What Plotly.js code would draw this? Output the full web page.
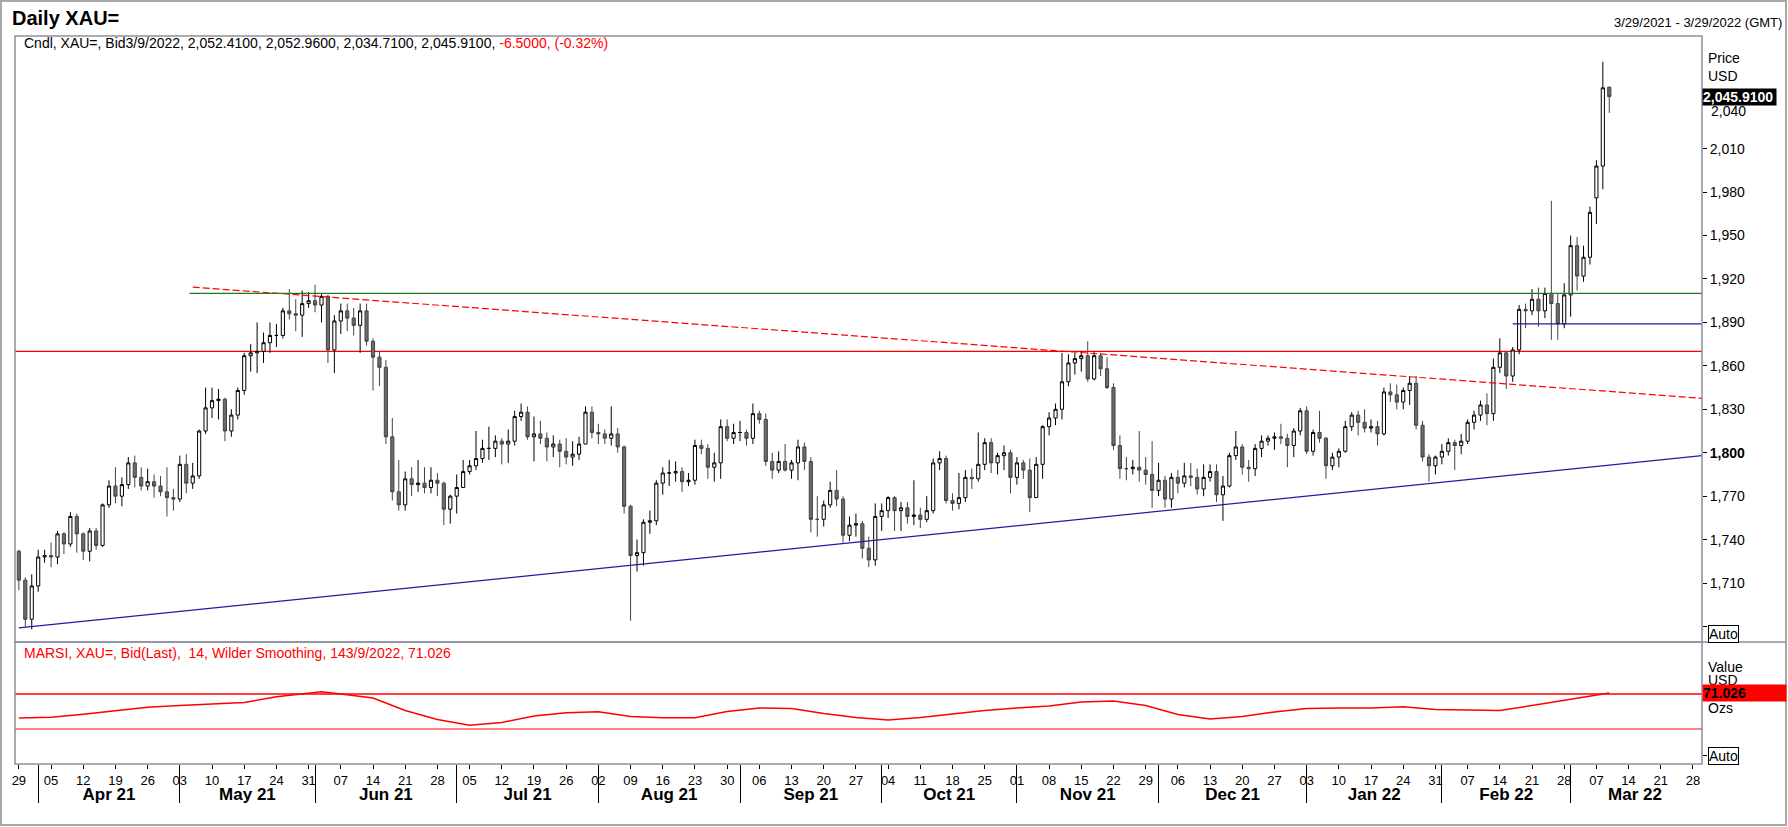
<!DOCTYPE html>
<html>
<head>
<meta charset="utf-8">
<script src="https://cdn.plot.ly/plotly-3.0.1.min.js"></script>
<style>
  html, body { margin: 0; padding: 0; background: #ffffff; }
  #chart { width: 1788px; height: 827px; }
</style>
</head>
<body>
<div id="chart"></div>
<script>
// ---------------- DATA (daily XAU= bid candles, weekdays from 2021-03-29 to 2022-03-09) ----------------
const firstDay = '2021-03-29';
const lastDay = '2022-03-09';

const openPx = [
  1732,1712,1685,1708,1728,  1729,1728,1744,1737,1756,  1744,1732,1746,1736,1764,  1777,1770,1778,1793,1783,
  1777,1780,1777,1773,1769,  1768,1792,1779,1784,1815,  1831,1836,1837,1815,1826,  1843,1867,1869,1870,1876,
  1881,1881,1898,1896,1895,  1903,1905,1902,1908,1871,  1891,1898,1893,1888,1898,  1877,1866,1859,1811,1773,
  1764,1782,1778,1779,1776,  1781,1779,1761,1770,1776,  1787,1791,1796,1803,1803,  1808,1806,1808,1825,1828,
  1811,1813,1810,1804,1806,  1801,1797,1799,1806,1828,  1814,1813,1810,1813,1804,  1763,1729,1731,1752,1753,
  1779,1786,1786,1787,1780,  1781,1805,1803,1790,1793,  1818,1810,1814,1814,1810,  1827,1823,1794,1788,1794,
  1788,1793,1804,1794,1754,  1754,1764,1774,1768,1743,  1750,1751,1734,1726,1756,  1760,1769,1760,1762,1756,
  1757,1754,1760,1793,1796,  1767,1765,1769,1783,1782,  1792,1807,1793,1798,1800,  1783,1793,1788,1769,1792,
  1818,1824,1830,1849,1862,  1865,1867,1851,1867,1858,  1845,1805,1789,1789,1790,  1788,1785,1774,1781,1768,
  1783,1779,1784,1783,1775,  1783,1787,1771,1777,1798,  1804,1790,1789,1803,1808,  1810,1811,1810,1805,1815,
  1829,1801,1814,1810,1791,  1797,1801,1818,1826,1821,  1817,1818,1813,1842,1840,  1835,1843,1848,1819,1797,
  1791,1797,1801,1807,1805,  1808,1821,1826,1833,1827,  1859,1869,1853,1871,1899,  1898,1906,1898,1910,1903,
  1889,1909,1943,1922,1935,  1976,1998,2052.41
];
const highPx = [
  1733,1714,1716,1733,1733,  1738,1746,1745,1759,1758,  1745,1748,1748,1765,1781,  1790,1783,1797,1798,1790,
  1789,1785,1784,1790,1775,  1798,1799,1793,1816,1845,  1845,1844,1838,1830,1845,  1869,1875,1890,1883,1890,
  1889,1900,1913,1906,1912,  1911,1916,1910,1909,1895,  1903,1903,1900,1903,1903,  1879,1870,1864,1824,1795,
  1787,1790,1795,1790,1790,  1786,1780,1771,1785,1795,  1795,1815,1809,1818,1812,  1810,1816,1829,1834,1832,
  1825,1822,1814,1812,1809,  1810,1808,1811,1832,1832,  1820,1816,1832,1817,1805,  1764,1740,1754,1760,1781,
  1790,1795,1794,1790,1786,  1809,1809,1806,1800,1823,  1823,1820,1822,1816,1834,  1829,1827,1800,1801,1806,
  1795,1809,1807,1797,1770,  1767,1780,1788,1770,1756,  1758,1753,1742,1765,1765,  1770,1770,1766,1766,1781,
  1762,1770,1796,1801,1798,  1772,1786,1788,1789,1814,  1810,1810,1800,1805,1802,  1797,1795,1796,1797,1819,
  1828,1834,1869,1868,1869,  1870,1877,1870,1869,1866,  1848,1812,1797,1795,1815,  1797,1808,1793,1784,1786,
  1788,1793,1793,1789,1792,  1792,1792,1784,1800,1815,  1806,1795,1806,1812,1812,  1814,1820,1813,1817,1831,
  1832,1816,1829,1811,1800,  1803,1822,1828,1829,1830,  1823,1822,1845,1848,1847,  1845,1853,1853,1822,1799,
  1798,1806,1810,1809,1813,  1823,1829,1836,1841,1865,  1879,1870,1873,1902,1903,  1913,1914,1914,1974,1910,
  1917,1950,1949,1943,1970,  2002,2070,2052.96
];
const lowPx = [
  1705,1680,1678,1704,1724,  1721,1723,1730,1735,1731,  1726,1725,1733,1735,1762,  1765,1763,1775,1776,1774,
  1774,1769,1770,1756,1760,  1766,1772,1775,1782,1813,  1824,1823,1808,1811,1823,  1840,1856,1855,1862,1869,
  1873,1879,1892,1884,1880,  1900,1897,1890,1862,1855,  1882,1884,1881,1869,1874,  1843,1846,1806,1767,1760,
  1760,1770,1773,1772,1772,  1770,1750,1751,1758,1776,  1785,1788,1793,1795,1797,  1792,1793,1805,1822,1809,
  1794,1806,1794,1797,1790,  1792,1791,1795,1806,1810,  1806,1806,1805,1800,1758,  1684,1718,1722,1744,1750,
  1771,1777,1780,1773,1777,  1778,1799,1782,1780,1782,  1808,1806,1808,1805,1806,  1820,1791,1782,1786,1787,
  1782,1781,1788,1745,1742,  1749,1762,1763,1738,1739,  1742,1727,1721,1722,1746,  1755,1746,1746,1751,1750,
  1748,1752,1758,1788,1765,  1760,1761,1766,1775,1780,  1788,1786,1785,1788,1772,  1778,1782,1759,1769,1782,
  1812,1819,1823,1846,1854,  1856,1849,1850,1853,1844,  1802,1782,1781,1785,1780,  1778,1762,1770,1762,1762,
  1772,1776,1777,1771,1770,  1780,1766,1753,1776,1795,  1785,1780,1784,1797,1805,  1802,1806,1790,1797,1812,
  1799,1798,1807,1782,1788,  1790,1800,1815,1812,1814,  1814,1805,1812,1835,1830,  1830,1833,1816,1794,1780,
  1785,1792,1798,1788,1799,  1806,1816,1822,1819,1822,  1855,1844,1849,1868,1886,  1895,1887,1893,1878,1878,
  1886,1894,1912,1918,1930,  1958,1982,2034.71
];
const closePx = [
  1712,1685,1708,1728,1729,  1728,1744,1737,1756,1744,  1732,1746,1736,1764,1777,  1770,1778,1793,1783,1777,
  1780,1777,1773,1769,1768,  1792,1779,1784,1815,1831,  1836,1837,1815,1826,1843,  1867,1869,1870,1876,1881,
  1881,1898,1896,1895,1903,  1905,1902,1908,1871,1891,  1898,1893,1888,1898,1877,  1866,1859,1811,1773,1764,
  1782,1778,1779,1776,1781,  1779,1761,1770,1776,1787,  1791,1796,1803,1803,1808,  1806,1808,1825,1828,1811,
  1813,1810,1804,1806,1801,  1797,1799,1806,1828,1814,  1813,1810,1813,1804,1763,  1729,1731,1752,1753,1779,
  1786,1786,1787,1780,1781,  1805,1803,1790,1793,1818,  1810,1814,1814,1810,1827,  1823,1794,1788,1794,1788,
  1793,1804,1794,1754,1754,  1764,1774,1768,1743,1750,  1751,1734,1726,1756,1760,  1769,1760,1762,1756,1757,
  1754,1760,1793,1796,1767,  1765,1769,1783,1782,1792,  1807,1793,1798,1800,1783,  1793,1788,1769,1792,1818,
  1824,1830,1849,1862,1865,  1867,1851,1867,1858,1845,  1805,1789,1789,1790,1788,  1785,1774,1781,1768,1783,
  1779,1784,1783,1775,1783,  1787,1771,1777,1798,1804,  1790,1789,1803,1808,1810,  1811,1810,1805,1815,1829,
  1801,1814,1810,1791,1797,  1801,1818,1826,1821,1817,  1818,1813,1842,1840,1835,  1843,1848,1819,1797,1791,
  1797,1801,1807,1805,1808,  1821,1826,1833,1827,1859,  1869,1853,1871,1899,1898,  1906,1898,1910,1903,1889,
  1909,1943,1922,1935,1966,  1998,2052,2045.91
];

// RSI (MARSI 14, Wilder smoothing)
const rsiDates = ['2021-03-29','2021-04-05','2021-04-12','2021-04-19','2021-04-26','2021-05-03','2021-05-10','2021-05-17',
  '2021-05-24','2021-05-31','2021-06-02','2021-06-07','2021-06-14','2021-06-21','2021-06-28','2021-07-05','2021-07-12',
  '2021-07-19','2021-07-26','2021-08-02','2021-08-09','2021-08-16','2021-08-23','2021-08-30','2021-09-06','2021-09-13',
  '2021-09-20','2021-09-27','2021-10-04','2021-10-11','2021-10-18','2021-10-25','2021-11-01','2021-11-08','2021-11-15',
  '2021-11-22','2021-11-29','2021-12-06','2021-12-13','2021-12-20','2021-12-27','2022-01-03','2022-01-10','2022-01-17',
  '2022-01-24','2022-01-31','2022-02-07','2022-02-14','2022-02-21','2022-02-28','2022-03-07','2022-03-09'];
const rsiValues = [42.6,43.5,46.8,50.6,54.8,56.9,58.6,60.3,66.8,70.6,72.6,70.0,65.4,51.1,40.9,34.2,37.4,44.9,48.6,49.8,
  44.3,42.9,42.9,50.0,54.0,53.4,47.7,43.1,40.3,43.1,47.1,51.1,54.0,56.3,60.9,62.0,56.9,46.6,41.4,44.3,49.4,53.4,54.0,
  54.0,55.4,52.3,51.7,51.1,56.9,62.6,68.9,71.03];
const rsiUpper = 70, rsiLower = 30;

// Drawn lines
const supportX = ['2021-03-29', '2022-03-29 09:36'];  const supportY = [1679, 1798];
const resistDashX = ['2021-05-05', '2022-03-29 09:36']; const resistDashY = [1914.4, 1837.6];
const greenX = ['2021-05-04 12:00', '2022-03-29 09:36']; const greenY = [1910, 1910];
const blueShortX = ['2022-02-16', '2022-03-29 09:36']; const blueShortY = [1889, 1889];
const redLevel = 1870;

// Axis ticks
const priceTickVals = [1680,1710,1740,1770,1800,1830,1860,1890,1920,1950,1980,2010];
const priceTickText = ['','1,710','1,740','1,770','<b>1,800</b>','1,830','1,860','1,890','1,920','1,950','1,980','2,010'];
const monthStarts = ['2021-04-01','2021-05-03','2021-06-01','2021-07-01','2021-08-02','2021-09-01','2021-10-01',
  '2021-11-01','2021-12-01','2022-01-03','2022-02-01','2022-03-01'];
const monthMids = ['2021-04-16','2021-05-17 12:00','2021-06-16','2021-07-16','2021-08-17','2021-09-16','2021-10-15 12:00',
  '2021-11-16','2021-12-16 12:00','2022-01-17 12:00','2022-02-15','2022-03-15'];
const monthLabels = ['Apr 21','May 21','Jun 21','Jul 21','Aug 21','Sep 21','Oct 21','Nov 21','Dec 21','Jan 22','Feb 22','Mar 22'];
const weekTickCount = 53;

// ---------------- BUILD ----------------
function ymd(d) { return d.toISOString().slice(0, 10); }
const dates = [];
{
  const d = new Date(firstDay + 'T00:00:00Z');
  const end = new Date(lastDay + 'T00:00:00Z');
  while (d <= end) {
    const wd = d.getUTCDay();
    if (wd !== 0 && wd !== 6) dates.push(ymd(d));
    d.setUTCDate(d.getUTCDate() + 1);
  }
}
const weekTicks = [], weekTickText = [];
{
  const d = new Date(firstDay + 'T00:00:00Z');
  for (let i = 0; i < weekTickCount; i++) {
    weekTicks.push(ymd(d));
    weekTickText.push(String(d.getUTCDate()).padStart(2, '0'));
    d.setUTCDate(d.getUTCDate() + 7);
  }
}

const FONT = 'Liberation Sans, Arial, Helvetica, sans-serif';
const xRange = ['2021-03-26 09:36', '2022-03-29 09:36'];
const rb = [{ bounds: ['sat', 'mon'] }];

// pixel helpers for paper coords (plot area: x 15..1702, y 36..764)
const L = 15, R = 1702, T = 36, B = 764;
const px = v => (v - L) / (R - L);
const py = v => (B - v) / (B - T);
const split = py(642);

const traces = [
  {
    type: 'candlestick', x: dates, open: openPx, high: highPx, low: lowPx, close: closePx,
    xaxis: 'x', yaxis: 'y', whiskerwidth: 0,
    increasing: { line: { color: '#000000', width: 1 }, fillcolor: '#ffffff' },
    decreasing: { line: { color: '#444444', width: 1 }, fillcolor: '#6b6b6b' },
    hoverinfo: 'skip'
  },
  { type: 'scatter', mode: 'lines', x: supportX, y: supportY, xaxis: 'x', yaxis: 'y',
    line: { color: '#1c1c9c', width: 1.2 }, hoverinfo: 'skip' },
  { type: 'scatter', mode: 'lines', x: resistDashX, y: resistDashY, xaxis: 'x', yaxis: 'y',
    line: { color: '#ff0000', width: 1.2, dash: '7px,3px' }, hoverinfo: 'skip' },
  { type: 'scatter', mode: 'lines', x: greenX, y: greenY, xaxis: 'x', yaxis: 'y',
    line: { color: '#1f7a1f', width: 1.2 }, hoverinfo: 'skip' },
  { type: 'scatter', mode: 'lines', x: blueShortX, y: blueShortY, xaxis: 'x', yaxis: 'y',
    line: { color: '#1c1c9c', width: 1.2 }, hoverinfo: 'skip' },
  { type: 'scatter', mode: 'lines', x: rsiDates, y: rsiValues, xaxis: 'x2', yaxis: 'y2',
    line: { color: '#ff0000', width: 1.5 }, hoverinfo: 'skip' },
  // empty traces so the overlaying date axes (month separators / month names) get drawn
  { type: 'scatter', mode: 'lines', x: [], y: [], xaxis: 'x3', yaxis: 'y2', hoverinfo: 'skip' },
  { type: 'scatter', mode: 'lines', x: [], y: [], xaxis: 'x4', yaxis: 'y2', hoverinfo: 'skip' }
];

const baseX = {
  range: xRange, rangebreaks: rb, type: 'date', showgrid: false, zeroline: false, fixedrange: true
};

const layout = {
  width: 1788, height: 827,
  margin: { l: L, r: 1788 - R, t: T, b: 827 - B, pad: 0 },
  paper_bgcolor: '#ffffff', plot_bgcolor: '#ffffff',
  showlegend: false, hovermode: false, dragmode: false,
  font: { family: FONT, size: 13, color: '#000000' },
  xaxis: Object.assign({}, baseX, { anchor: 'y', showticklabels: false, ticks: '', showline: false, rangeslider: { visible: false } }),
  xaxis2: Object.assign({}, baseX, { anchor: 'y2', tickmode: 'array', tickvals: weekTicks, ticktext: weekTickText,
    ticks: 'outside', ticklen: 4, tickcolor: '#000000', tickwidth: 1,
    tickfont: { family: FONT, size: 13, color: '#000000' }, showline: false }),
  xaxis3: Object.assign({}, baseX, { overlaying: 'x2', anchor: 'y2', side: 'bottom', tickmode: 'array', tickvals: monthStarts,
    ticktext: monthStarts.map(() => ''), ticks: 'outside', ticklen: 38, tickcolor: '#000000', tickwidth: 1, showline: false }),
  xaxis4: Object.assign({}, baseX, { overlaying: 'x2', anchor: 'y2', side: 'bottom', tickmode: 'array', tickvals: monthMids,
    ticktext: monthLabels, ticks: '', ticklabelstandoff: 18,
    tickfont: { family: FONT, size: 17, color: '#000000', weight: 'bold' }, showline: false }),
  yaxis: {
    domain: [split, 1], anchor: 'x', side: 'right', range: [1669.3, 2087.8], fixedrange: true,
    tickmode: 'array', tickvals: priceTickVals, ticktext: priceTickText,
    ticks: 'outside', ticklen: 4, tickcolor: '#000000', tickwidth: 1,
    tickfont: { family: FONT, size: 14, color: '#000000' }, showgrid: false, zeroline: false, showline: false
  },
  yaxis2: {
    domain: [0, split], anchor: 'x2', side: 'right', range: [-10, 129.4], fixedrange: true,
    tickmode: 'array', tickvals: [0], ticktext: [''], ticks: 'outside', ticklen: 4, tickcolor: '#000000',
    showgrid: false, zeroline: false, showline: false
  },
  shapes: [
    // outer frame
    { type: 'rect', xref: 'paper', yref: 'paper', x0: px(1), x1: px(1786), y0: py(825), y1: py(1),
      line: { color: '#a8a8a8', width: 2 }, layer: 'above' },
    // main panel box
    { type: 'rect', xref: 'paper', yref: 'paper', x0: 0, x1: 1, y0: split, y1: 1,
      line: { color: '#8e8e9e', width: 1.5 }, layer: 'above' },
    // rsi panel box
    { type: 'rect', xref: 'paper', yref: 'paper', x0: 0, x1: 1, y0: 0, y1: split,
      line: { color: '#8e8e9e', width: 1.5 }, layer: 'above' },
    // separator extending to the right edge
    { type: 'line', xref: 'paper', yref: 'paper', x0: 1, x1: px(1786), y0: split, y1: split,
      line: { color: '#8e8e9e', width: 1.5 }, layer: 'above' },
    // 1870 red level
    { type: 'line', xref: 'paper', yref: 'y', x0: 0, x1: 1, y0: redLevel, y1: redLevel,
      line: { color: '#ff0000', width: 1.2 }, layer: 'below' },
    // RSI levels
    { type: 'line', xref: 'paper', yref: 'y2', x0: 0, x1: 1, y0: rsiUpper, y1: rsiUpper,
      line: { color: '#ff0000', width: 1.5 }, layer: 'below' },
    { type: 'line', xref: 'paper', yref: 'y2', x0: 0, x1: 1, y0: rsiLower, y1: rsiLower,
      line: { color: '#ff0000', width: 1 }, layer: 'below' }
  ],
  annotations: [
    { xref: 'paper', yref: 'paper', x: px(10), y: py(18), xanchor: 'left', yanchor: 'middle', showarrow: false,
      text: '<b>Daily XAU=</b>', font: { family: FONT, size: 20, color: '#000000' } },
    { xref: 'paper', yref: 'paper', x: px(1784), y: py(22), xanchor: 'right', yanchor: 'middle', showarrow: false,
      text: '3/29/2021 - 3/29/2022 (GMT)', font: { family: FONT, size: 13, color: '#000000' } },
    { xref: 'paper', yref: 'paper', x: px(22), y: py(43), xanchor: 'left', yanchor: 'middle', showarrow: false,
      text: 'Cndl, XAU=, Bid3/9/2022, 2,052.4100, 2,052.9600, 2,034.7100, 2,045.9100, <span style="color:#ff0000">-6.5000, (-0.32%)</span>',
      font: { family: FONT, size: 14, color: '#000000' } },
    { xref: 'paper', yref: 'paper', x: px(22), y: py(653), xanchor: 'left', yanchor: 'middle', showarrow: false,
      text: 'MARSI, XAU=, Bid(Last),  14, Wilder Smoothing, 143/9/2022, 71.026',
      font: { family: FONT, size: 14, color: '#ff0000' } },
    { xref: 'paper', yref: 'paper', x: px(1706), y: py(58), xanchor: 'left', yanchor: 'middle', showarrow: false,
      text: 'Price', font: { family: FONT, size: 14, color: '#000000' } },
    { xref: 'paper', yref: 'paper', x: px(1706), y: py(76), xanchor: 'left', yanchor: 'middle', showarrow: false,
      text: 'USD', font: { family: FONT, size: 14, color: '#000000' } },
    { xref: 'paper', yref: 'y', x: px(1709), y: 2040, yshift: -6, xanchor: 'left', yanchor: 'middle', showarrow: false,
      text: '2,040', font: { family: FONT, size: 14, color: '#000000' } },
    { xref: 'paper', yref: 'y', x: 1, y: closePx[closePx.length - 1], xanchor: 'left', yanchor: 'middle', showarrow: false,
      text: '<b>2,045.9100</b>', bgcolor: '#000000', borderpad: 0, width: 73, height: 16, align: 'left',
      font: { family: FONT, size: 14, color: '#ffffff' } },
    { xref: 'paper', yref: 'paper', x: px(1708), y: py(634), xanchor: 'left', yanchor: 'middle', showarrow: false,
      text: 'Auto', bordercolor: '#000000', borderwidth: 1, borderpad: 0, bgcolor: '#ffffff',
      font: { family: FONT, size: 14, color: '#000000' } },
    { xref: 'paper', yref: 'paper', x: px(1706), y: py(667), xanchor: 'left', yanchor: 'middle', showarrow: false,
      text: 'Value', font: { family: FONT, size: 14, color: '#000000' } },
    { xref: 'paper', yref: 'paper', x: px(1706), y: py(680), xanchor: 'left', yanchor: 'middle', showarrow: false,
      text: 'USD', font: { family: FONT, size: 14, color: '#000000' } },
    { xref: 'paper', yref: 'paper', x: px(1706), y: py(708), xanchor: 'left', yanchor: 'middle', showarrow: false,
      text: 'Ozs', font: { family: FONT, size: 14, color: '#000000' } },
    { xref: 'paper', yref: 'y2', x: 1, y: rsiValues[rsiValues.length - 1], xanchor: 'left', yanchor: 'middle', showarrow: false,
      text: '<b>71.026</b>', bgcolor: '#ff0000', borderpad: 0, width: 83, height: 16, align: 'left',
      font: { family: FONT, size: 14, color: '#000000' } },
    { xref: 'paper', yref: 'paper', x: px(1708), y: py(756), xanchor: 'left', yanchor: 'middle', showarrow: false,
      text: 'Auto', bordercolor: '#000000', borderwidth: 1, borderpad: 0, bgcolor: '#ffffff',
      font: { family: FONT, size: 14, color: '#000000' } }
  ]
};

Plotly.newPlot('chart', traces, layout, { staticPlot: true, displayModeBar: false });
</script>
</body>
</html>
